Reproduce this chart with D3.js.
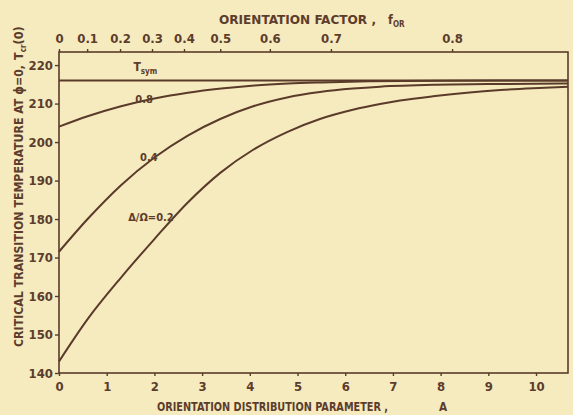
<!DOCTYPE html>
<html>
<head>
<meta charset="utf-8">
<script src="https://cdn.jsdelivr.net/npm/d3@7/dist/d3.min.js"></script>
<style>
  html, body { margin: 0; padding: 0; background: #f6eabf; }
  svg { display: block; }
  text { font-family: "DejaVu Sans Condensed", "DejaVu Sans", sans-serif; font-weight: bold; fill: #5c3d2c; }
</style>
</head>
<body>
<svg width="573" height="415"></svg>
<script>
// оси
const xTicks = [0, 1, 2, 3, 4, 5, 6, 7, 8, 9, 10];
const yTicks = [140, 150, 160, 170, 180, 190, 200, 210, 220];
// верхняя шкала f_OR: подписи и их положение по A
const fLabels = ["0", "0.1", "0.2", "0.3", "0.4", "0.5", "0.6", "0.7", "0.8"];
const fAtA = [0, 0.59, 1.28, 1.95, 2.62, 3.38, 4.42, 5.70, 8.24];

const T_SYM = 216.0;

// кривые Δ/Ω = 0.8, 0.4, 0.2 : [A, T]
const curve08 = [[0, 204.0], [0.6, 206.7], [1.3, 209.3], [2.0, 211.3], [2.7, 212.8],
  [3.4, 213.9], [4.1, 214.7], [4.8, 215.2], [5.5, 215.5], [6.5, 215.8], [8.0, 215.95], [10.67, 216.0]];
const curve04 = [[0, 171.5], [0.6, 180.0], [1.3, 188.8], [2.0, 196.0], [2.7, 201.7],
  [3.38, 206.0], [4.07, 209.3], [4.78, 211.6], [5.47, 213.0], [6.16, 213.9], [6.73, 214.4],
  [7.9, 214.9], [9.3, 215.1], [10.67, 215.2]];
const curve02 = [[0, 143.0], [0.6, 154.0], [1.3, 164.8], [2.0, 174.8], [2.7, 184.3],
  [3.38, 192.0], [4.07, 198.0], [4.78, 202.6], [5.47, 206.0], [6.16, 208.4], [6.73, 209.9],
  [7.15, 210.8], [7.84, 211.9], [8.55, 212.8], [9.25, 213.5], [9.94, 214.0], [10.67, 214.4]];

const ink = "#5a3b2a";
const svg = d3.select("svg");
const mLeft = 59, mRight = 568, mTop = 52, mBottom = 373;

const x = d3.scaleLinear().domain([0, 10.67]).range([mLeft, mRight]);
const y = d3.scaleLinear().domain([140, 223.4]).range([mBottom, mTop]);

// рамка
svg.append("rect")
  .attr("x", mLeft).attr("y", mTop)
  .attr("width", mRight - mLeft).attr("height", mBottom - mTop)
  .attr("fill", "none").attr("stroke", ink).attr("stroke-width", 1.6);

function styleAxis(g) {
  g.select(".domain").remove();
  g.selectAll(".tick line").attr("stroke", ink).attr("stroke-width", 1.4);
  g.selectAll(".tick text").style("font-size", "13px").attr("fill", ink);
}

svg.append("g")
  .attr("transform", `translate(0,${mBottom})`)
  .call(d3.axisBottom(x).tickValues(xTicks).tickFormat(d3.format("d")).tickSize(3).tickPadding(6))
  .call(styleAxis);

svg.append("g")
  .attr("transform", `translate(${mLeft},0)`)
  .call(d3.axisLeft(y).tickValues(yTicks).tickFormat(d3.format("d")).tickSize(4).tickPadding(2))
  .call(styleAxis);

svg.append("g")
  .attr("transform", `translate(0,${mTop})`)
  .call(d3.axisTop(x).tickValues(fAtA).tickFormat((d, i) => fLabels[i]).tickSize(3).tickPadding(6))
  .call(styleAxis);

// линии
const line = d3.line()
  .x(d => x(d[0]))
  .y(d => y(d[1]))
  .curve(d3.curveMonotoneX);

svg.append("line")
  .attr("x1", x(0)).attr("x2", x(10.67))
  .attr("y1", y(T_SYM)).attr("y2", y(T_SYM))
  .attr("stroke", ink).attr("stroke-width", 2);

[curve08, curve04, curve02].forEach(c => {
  svg.append("path")
    .attr("d", line(c))
    .attr("fill", "none")
    .attr("stroke", ink)
    .attr("stroke-width", 2);
});

// подписи кривых
const tsym = svg.append("text")
  .attr("x", x(1.56)).attr("y", y(218.5))
  .style("font-size", "12px");
tsym.append("tspan").text("T");
tsym.append("tspan").attr("dy", 3).style("font-size", "8px").text("sym");

svg.append("text").attr("x", x(1.6)).attr("y", y(210.2))
  .style("font-size", "11px").text("0.8");
svg.append("text").attr("x", x(1.7)).attr("y", y(195.0))
  .style("font-size", "11px").text("0.4");
svg.append("text").attr("x", x(1.45)).attr("y", y(179.6))
  .style("font-size", "11px").text("Δ/Ω=0.2");

// заголовки осей
const topTitle = svg.append("text")
  .attr("x", 219).attr("y", 24)
  .style("font-size", "12.5px");
topTitle.append("tspan").attr("textLength", 157).attr("lengthAdjust", "spacingAndGlyphs")
  .text("ORIENTATION FACTOR ,");
topTitle.append("tspan").attr("x", 388).text("f");
topTitle.append("tspan").attr("dy", 3).style("font-size", "8px").text("OR");

const bottomTitle = svg.append("text")
  .attr("x", 157).attr("y", 411)
  .style("font-size", "11.7px");
bottomTitle.append("tspan").attr("textLength", 231).attr("lengthAdjust", "spacingAndGlyphs")
  .text("ORIENTATION DISTRIBUTION PARAMETER ,");
bottomTitle.append("tspan").attr("x", 439).text("A");

const yTitle = svg.append("text")
  .attr("transform", "translate(23,347) rotate(-90)")
  .style("font-size", "12.5px");
yTitle.append("tspan").attr("textLength", 282).attr("lengthAdjust", "spacingAndGlyphs")
  .text("CRITICAL TRANSITION TEMPERATURE AT ϕ=0,");
yTitle.append("tspan").attr("dx", 5).text("T");
yTitle.append("tspan").attr("dy", 3).style("font-size", "8px").text("cr");
yTitle.append("tspan").attr("dy", -3).text("(0)");
</script>
</body>
</html>
